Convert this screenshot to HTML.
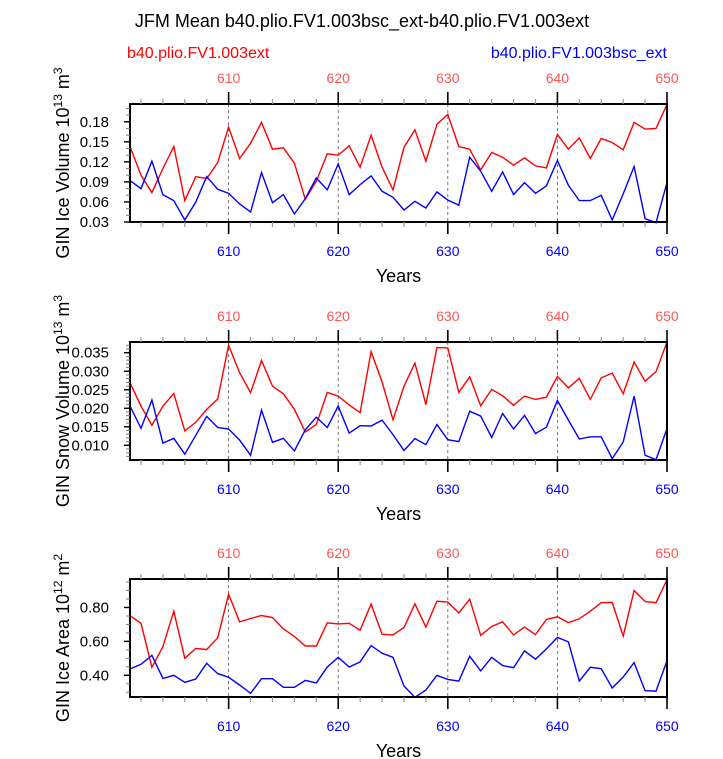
<!DOCTYPE html>
<html><head><meta charset="utf-8"><style>
html,body{margin:0;padding:0;background:#fff;}
svg{display:block;font-family:"Liberation Sans",Arial,sans-serif;}
</style></head><body>
<svg id="chart" width="723" height="759" viewBox="0 0 723 759" xmlns="http://www.w3.org/2000/svg">
<text x="362" y="27" font-size="18" text-anchor="middle">JFM Mean b40.plio.FV1.003bsc_ext-b40.plio.FV1.003ext</text>
<text x="127" y="58" font-size="16" fill="#f00">b40.plio.FV1.003ext</text>
<text x="667" y="58" font-size="16" fill="#00f" text-anchor="end">b40.plio.FV1.003bsc_ext</text>
</svg>
<script>
const years = [];
for (let y = 601; y <= 650; y++) years.push(y);
const xTickLabels = ["610","620","630","640","650"];

const iceVolExt = [0.143,0.100,0.074,0.110,0.143,0.062,0.098,0.095,0.119,0.172,0.125,0.148,0.179,0.139,0.141,0.118,0.064,0.091,0.132,0.130,0.144,0.112,0.160,0.112,0.078,0.142,0.168,0.121,0.176,0.191,0.143,0.139,0.108,0.134,0.127,0.115,0.126,0.114,0.111,0.161,0.139,0.156,0.125,0.155,0.149,0.138,0.179,0.169,0.170,0.206];
const iceVolBsc = [0.092,0.080,0.121,0.071,0.062,0.033,0.060,0.098,0.079,0.073,0.057,0.045,0.104,0.059,0.071,0.042,0.065,0.096,0.078,0.117,0.071,0.086,0.099,0.076,0.067,0.048,0.061,0.051,0.075,0.063,0.055,0.127,0.106,0.076,0.105,0.071,0.089,0.073,0.084,0.122,0.085,0.062,0.062,0.070,0.033,0.072,0.113,0.035,0.029,0.089];
const iceVolTicks = ["0.03","0.06","0.09","0.12","0.15","0.18"];

const snowExt = [0.0269,0.0206,0.0154,0.0206,0.0240,0.0139,0.0162,0.0197,0.0225,0.0370,0.0296,0.0242,0.0329,0.0260,0.0239,0.0197,0.0136,0.0156,0.0243,0.0233,0.0209,0.0188,0.0353,0.0271,0.0169,0.0260,0.0322,0.0210,0.0364,0.0363,0.0243,0.0285,0.0207,0.0251,0.0234,0.0208,0.0233,0.0224,0.0230,0.0286,0.0255,0.0281,0.0224,0.0282,0.0295,0.0239,0.0325,0.0273,0.0299,0.0379];
const snowBsc = [0.0206,0.0146,0.0222,0.0106,0.0119,0.0076,0.0127,0.0178,0.0148,0.0144,0.0114,0.0073,0.0195,0.0108,0.0119,0.0085,0.0142,0.0176,0.0148,0.0206,0.0133,0.0153,0.0152,0.0168,0.0129,0.0086,0.0118,0.0102,0.0156,0.0115,0.0110,0.0192,0.0179,0.0121,0.0186,0.0144,0.0181,0.0132,0.0149,0.0221,0.0168,0.0117,0.0123,0.0123,0.0064,0.0109,0.0233,0.0073,0.0061,0.0145];
const snowTicks = ["0.010","0.015","0.020","0.025","0.030","0.035"];

const areaExt = [0.751,0.707,0.447,0.569,0.778,0.500,0.558,0.552,0.621,0.879,0.715,0.735,0.753,0.741,0.674,0.629,0.573,0.573,0.709,0.703,0.707,0.666,0.820,0.642,0.638,0.682,0.822,0.684,0.837,0.832,0.768,0.849,0.636,0.688,0.715,0.638,0.684,0.640,0.729,0.745,0.711,0.733,0.778,0.828,0.830,0.631,0.900,0.835,0.828,0.964];
const areaBsc = [0.437,0.465,0.518,0.382,0.400,0.359,0.378,0.471,0.410,0.388,0.343,0.294,0.380,0.380,0.329,0.329,0.370,0.355,0.449,0.506,0.449,0.479,0.575,0.530,0.506,0.337,0.270,0.313,0.400,0.376,0.366,0.512,0.426,0.506,0.457,0.445,0.544,0.495,0.556,0.623,0.597,0.366,0.447,0.439,0.325,0.390,0.475,0.309,0.307,0.485];
const areaTicks = ["0.40","0.60","0.80"];

const NS = "http://www.w3.org/2000/svg";
const svg = document.getElementById("chart");
const X0 = 130, X1 = 667, YR0 = 601, YR1 = 650;
function xScale(yr){ return X0 + (yr - YR0) / (YR1 - YR0) * (X1 - X0); }
function mk(tag, attrs, parent){
  const e = document.createElementNS(NS, tag);
  for (const k in attrs) e.setAttribute(k, attrs[k]);
  (parent || svg).appendChild(e);
  return e;
}

function panel(cfg){
  const g = mk("g", {});
  
  
  const top = cfg.top, bot = cfg.top + 118;
  const yS = v => bot - (v - cfg.ymin) / (cfg.ymax - cfg.ymin) * (bot - top);
  for (const t of xTickLabels){
    const yr = +t;
    if (yr >= YR1) continue;
    const l = mk("line", {x1:xScale(yr), x2:xScale(yr), y1:top, y2:bot, stroke:"#555", "stroke-width":0.8, "stroke-dasharray":"3,3"}, g);
    
    
  }
  const series = [[cfg.ext, "#f00", "ext-line"], [cfg.bsc, "#00f", "bsc-ext-line"]];
  for (const [data, col, nm] of series){
    const pts = data.map((v,i) => xScale(years[i]).toFixed(1) + "," + yS(v).toFixed(1)).join(" ");
    const pl = mk("polyline", {points:pts, fill:"none", stroke:col, "stroke-width":1.4, "stroke-linejoin":"miter"}, g);
    
    
  }
  const fr = mk("rect", {x:X0, y:top, width:X1-X0, height:bot-top, fill:"none", stroke:"#000", "stroke-width":2}, g);
  
  
  for (let yr = 602; yr <= 650; yr += 2){
    const major = yr % 10 === 0;
    const len = major ? 12 : 5;
    const x = xScale(yr);
    mk("line", {x1:x, x2:x, y1:top, y2:top-len, stroke:major?"#000":"#999", "stroke-width":major?1.6:1.2}, g);
    mk("line", {x1:x, x2:x, y1:bot, y2:bot+len, stroke:major?"#000":"#999", "stroke-width":major?1.6:1.2}, g);
  }
  for (const t of xTickLabels){
    const x = xScale(+t);
    const a = mk("text", {x:x, y:top-21, "font-size":14, fill:"#f55", "text-anchor":"middle"}, g);
    a.textContent = t;
    
    
    const b = mk("text", {x:x, y:bot+34, "font-size":14, fill:"#00f", "text-anchor":"middle"}, g);
    b.textContent = t;
    
    
  }
  for (let v = cfg.minorStart; v <= cfg.ymax + 1e-9; v += cfg.minor){
    const y = yS(v);
    if (y < top - 0.5 || y > bot + 0.5) continue;
    mk("line", {x1:X0, x2:X0-4, y1:y, y2:y, stroke:"#777", "stroke-width":1}, g);
  }
  for (const t of cfg.yTicks){
    const y = yS(+t);
    mk("line", {x1:X0, x2:X0-6, y1:y, y2:y, stroke:"#000", "stroke-width":1.4}, g);
    const tl = mk("text", {x:X0-21, y:y+5, "font-size":15, "text-anchor":"end"}, g);
    tl.textContent = t;
    
    
  }
  const xt = mk("text", {x:(X0+X1)/2, y:bot+60, "font-size":18, "text-anchor":"middle"}, g);
  xt.textContent = "Years";
  
  
  const cy = (top+bot)/2;
  const yt = mk("text", {x:0, y:0, "font-size":18, "text-anchor":"middle", transform:"translate(69," + cy + ") rotate(-90)"}, g);
  
  
  const t1 = mk("tspan", {}, yt); t1.textContent = cfg.ylab + " 10";
  const t2 = mk("tspan", {dy:-7, "font-size":12}, yt); t2.textContent = cfg.exp1;
  const t3 = mk("tspan", {dy:7}, yt); t3.textContent = " m";
  const t4 = mk("tspan", {dy:-7, "font-size":12}, yt); t4.textContent = cfg.exp2;
}

panel({name:"ice-volume-panel", top:104, ymin:0.03, ymax:0.2066, ext:iceVolExt, bsc:iceVolBsc, yTicks:iceVolTicks, minor:0.01, minorStart:0.03, ylab:"GIN Ice Volume", exp1:"13", exp2:"3"});
panel({name:"snow-volume-panel", top:342, ymin:0.00603, ymax:0.0379, ext:snowExt, bsc:snowBsc, yTicks:snowTicks, minor:0.001, minorStart:0.007, ylab:"GIN Snow Volume", exp1:"13", exp2:"3"});
panel({name:"ice-area-panel", top:579, ymin:0.272, ymax:0.968, ext:areaExt, bsc:areaBsc, yTicks:areaTicks, minor:0.05, minorStart:0.30, ylab:"GIN Ice Area", exp1:"12", exp2:"2"});
</script>
</body></html>
